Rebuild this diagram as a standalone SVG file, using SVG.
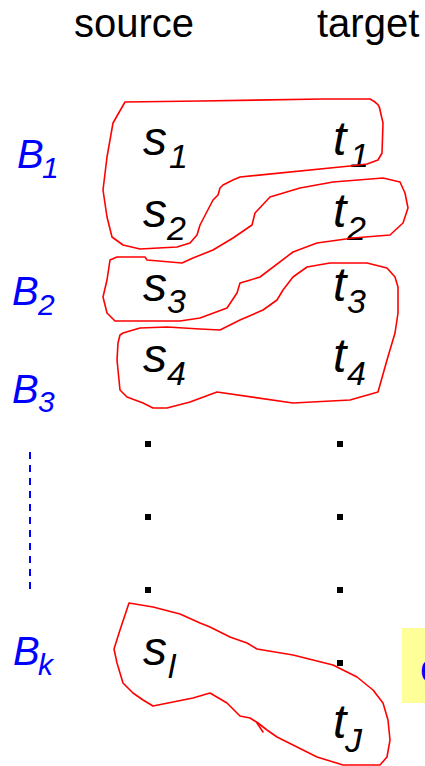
<svg xmlns="http://www.w3.org/2000/svg" width="425" height="766" viewBox="0 0 425 766">
<style>
.hdr{font-family:"Liberation Sans",Arial,sans-serif;font-size:40px;fill:#000}
.v{font-family:"Liberation Sans",Arial,sans-serif;font-style:italic;font-size:48px;fill:#000}
.sub{font-family:"Liberation Sans",Arial,sans-serif;font-style:italic;font-size:34px;fill:#000}
.b{font-family:"Liberation Sans",Arial,sans-serif;font-style:italic;font-size:40px;fill:#0000FF}
.bs{font-family:"Liberation Sans",Arial,sans-serif;font-style:italic;font-size:30px;fill:#0000FF}
.blk{fill:none;stroke:#FF0000;stroke-width:1.6;stroke-linejoin:round;stroke-linecap:round}
.dot{fill:#000}
</style>
<rect width="425" height="766" fill="#fff"/>
<g id="headers">
<text class="hdr" x="74" y="37">source</text>
<text class="hdr" x="317" y="37">target</text>
</g>
<g id="sources">
<text x="143" y="155"><tspan class="v">s</tspan><tspan class="sub" x="169" y="168">1</tspan></text>
<text x="143" y="227"><tspan class="v">s</tspan><tspan class="sub" x="167" y="240">2</tspan></text>
<text x="143" y="301"><tspan class="v">s</tspan><tspan class="sub" x="167" y="313">3</tspan></text>
<text x="143" y="372"><tspan class="v">s</tspan><tspan class="sub" x="167" y="385">4</tspan></text>
<text x="143" y="665"><tspan class="v">s</tspan><tspan class="sub" x="168" y="678">l</tspan></text>
</g>
<g id="targets">
<text x="333" y="155"><tspan class="v">t</tspan><tspan class="sub" x="350" y="167">1</tspan></text>
<text x="333" y="227"><tspan class="v">t</tspan><tspan class="sub" x="347" y="240">2</tspan></text>
<text x="333" y="301"><tspan class="v">t</tspan><tspan class="sub" x="347" y="313">3</tspan></text>
<text x="333" y="372"><tspan class="v">t</tspan><tspan class="sub" x="347" y="385">4</tspan></text>
<text x="333" y="738"><tspan class="v">t</tspan><tspan class="sub" x="345" y="752">J</tspan></text>
</g>
<g id="dots">
<rect class="dot" x="145" y="441" width="6" height="6"/>
<rect class="dot" x="337" y="441" width="6" height="6"/>
<rect class="dot" x="145" y="514" width="6" height="6"/>
<rect class="dot" x="337" y="514" width="6" height="6"/>
<rect class="dot" x="145" y="587" width="6" height="6"/>
<rect class="dot" x="337" y="587" width="6" height="6"/>
<rect class="dot" x="337" y="660" width="6" height="6"/>
</g>
<g id="blocks-labels">
<text x="17" y="168"><tspan class="b">B</tspan><tspan class="bs" x="42" y="178">1</tspan></text>
<text x="12" y="305"><tspan class="b">B</tspan><tspan class="bs" x="38" y="315">2</tspan></text>
<text x="12" y="403"><tspan class="b">B</tspan><tspan class="bs" x="38" y="412">3</tspan></text>
<text x="13" y="665"><tspan class="b">B</tspan><tspan class="bs" x="38" y="675">k</tspan></text>
<line x1="30" y1="452" x2="30" y2="592" stroke="#0000FF" stroke-width="2" stroke-dasharray="7 6"/>
</g>
<g id="blocks">
<path id="B1" class="blk" d="M125,102 L200,101 L323,99 L370,99 Q380,104 380,110 L383,123 L382,153 L378,160 L367,164 L350,166 L240,177 L233,180 L223,185 L220,188 L218,195 L213,200 L200,225 L197,235 L190,243 L177,247 L140,249 L123,245 L112,237 L107,217 L103,190 L107,157 L113,123 Z"/>
<path id="B2" class="blk" d="M270,197 L255,213 L252,225 L233,238 L213,250 L193,258 L182,263 L147,260 L145,257 L117,257 L110,260 L107,280 L103,297 L107,313 L115,321 L180,321 L200,318 L227,308 L237,293 L240,283 L247,281 L260,277 L293,252 L317,243 L353,238 L390,235 L403,223 L408,208 L405,193 L400,182 L383,178 L333,182 L300,188 Z"/>
<path id="B3" class="blk" d="M120,335 L118,343 L117,360 L120,390 L127,397 L143,403 L153,408 L167,408 L190,402 L217,392 L293,403 L350,400 L378,392 L387,360 L395,333 L398,313 L398,287 L395,277 L387,268 L367,263 L330,263 L307,267 L293,277 L283,290 L277,300 L263,310 L240,320 L220,330 L200,329 L167,327 L140,328 L123,333 Z"/>
<path id="Bk" class="blk" d="M129,603 L153,607 L180,614 L200,623 L210,627 L230,637 L247,643 L257,649 L293,655 L333,665 L357,677 L373,690 L383,703 L388,720 L390,740 L387,757 L380,765 L343,765 L317,757 L287,742 L277,737 L267,730 L258,723 L250,718 L240,716 L227,703 L210,693 L193,698 L153,706 L143,700 L133,693 L123,683 L117,663 L114,649 L120,630 Z"/>
<path class="blk" d="M257,723 L263,732"/>
</g>
<g id="note">
<rect x="402" y="628" width="23" height="75" fill="#FFFF99"/>
<text x="420" y="682" class="b" font-style="normal" style="font-style:normal">c</text>
</g>
</svg>
